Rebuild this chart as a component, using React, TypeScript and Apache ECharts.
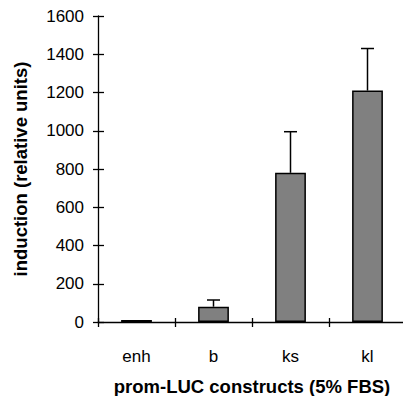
import React, { useEffect, useRef } from "react";
import * as echarts from "echarts";

const categories = ["enh", "b", "ks", "kl"];
const values = [10, 80, 780, 1210];
const errorsUp = [0, 35, 215, 220];
const yTicks = { min: 0, max: 1600, interval: 200 };

const FONT = "'Liberation Sans', Arial, sans-serif";

export default function App() {
  const ref = useRef<HTMLDivElement>(null);
  useEffect(() => {
    if (!ref.current) return;
    const chart = echarts.init(ref.current, null, { renderer: "svg" });
    const errData = categories.map((c, i) => [i, values[i], values[i] + errorsUp[i]]);
    chart.setOption({
      animation: false,
      backgroundColor: "#ffffff",
      grid: { left: 98, top: 16, width: 308, height: 306, containLabel: false, outerBoundsMode: "none" },
      xAxis: [
        {
          type: "category",
          data: categories,
          position: "bottom",
          axisLine: { lineStyle: { color: "#000", width: 1.3 } },
          axisTick: { show: true, inside: false, length: 5, lineStyle: { color: "#000", width: 1.3 } },
          axisLabel: { color: "#000", fontSize: 17, fontFamily: FONT, margin: 26 },
          name: "prom-LUC constructs (5% FBS)",
          nameLocation: "middle",
          nameGap: 55,
          nameTextStyle: { color: "#000", fontSize: 18.5, fontWeight: "bold", fontFamily: FONT },
        },
        {
          type: "category",
          data: categories,
          position: "bottom",
          axisLine: { show: false },
          axisTick: { show: true, inside: true, length: 4, lineStyle: { color: "#000", width: 1.3 } },
          axisLabel: { show: false },
        },
      ],
      yAxis: [
        {
          type: "value",
          min: yTicks.min,
          max: yTicks.max,
          interval: yTicks.interval,
          position: "left",
          splitLine: { show: false },
          axisLine: { show: true, lineStyle: { color: "#000", width: 1.3 } },
          axisTick: { show: true, inside: false, length: 5, lineStyle: { color: "#000", width: 1.3 } },
          axisLabel: { color: "#000", fontSize: 17, fontFamily: FONT, margin: 14, formatter: (v: number) => String(v) },
          name: "induction (relative units)",
          nameLocation: "middle",
          nameGap: 68,
          nameRotate: 90,
          nameTextStyle: { color: "#000", fontSize: 18.5, fontWeight: "bold", fontFamily: FONT },
        },
        {
          type: "value",
          min: yTicks.min,
          max: yTicks.max,
          interval: yTicks.interval,
          position: "left",
          splitLine: { show: false },
          axisLine: { show: false },
          axisTick: { show: true, inside: true, length: 6, lineStyle: { color: "#000", width: 1.3 } },
          axisLabel: { show: false },
        },
      ],
      series: [
        {
          type: "bar",
          data: values,
          barWidth: "40%",
          itemStyle: { color: "#808080", borderColor: "#000", borderWidth: 1.5 },
        },
        {
          type: "custom",
          data: errData,
          renderItem: (params: any, api: any) => {
            const i = api.value(0);
            const lo = api.value(1);
            const hi = api.value(2);
            if (hi <= lo) return null;
            const p0 = api.coord([i, lo]);
            const p1 = api.coord([i, hi]);
            const half = 6.5;
            const style = { stroke: "#000", lineWidth: 1.5 };
            return {
              type: "group",
              children: [
                { type: "line", shape: { x1: p0[0], y1: p0[1], x2: p1[0], y2: p1[1] }, style },
                { type: "line", shape: { x1: p1[0] - half, y1: p1[1], x2: p1[0] + half, y2: p1[1] }, style },
              ],
            };
          },
          z: 1,
        },
      ],
    });
    return () => chart.dispose();
  }, []);
  return <div ref={ref} style={{ width: 403, height: 396, position: "absolute", left: 0, top: 0 }} />;
}
